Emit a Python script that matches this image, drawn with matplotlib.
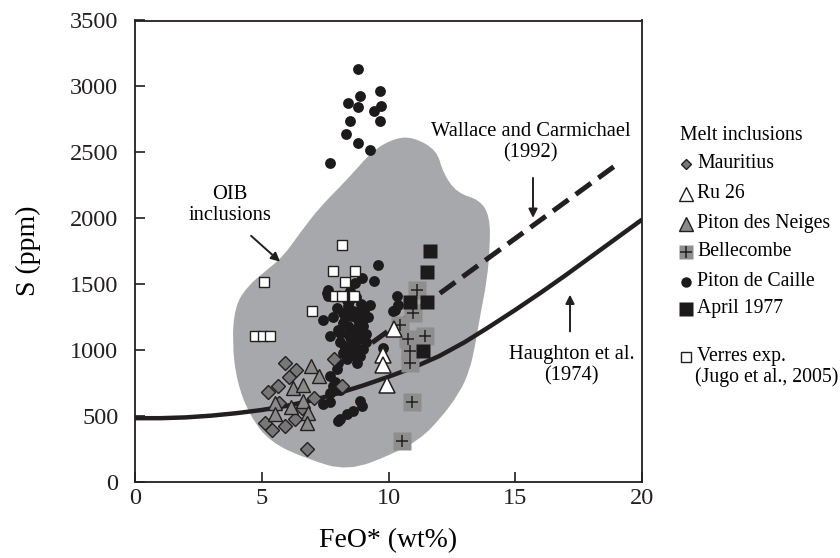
import numpy as np
import matplotlib
matplotlib.use("Agg")
import matplotlib.pyplot as plt
from matplotlib.path import Path
from matplotlib.patches import PathPatch

plt.rcParams['font.family'] = ['Liberation Serif', 'DejaVu Serif']

# ---------------- data (FeO* wt%, S ppm) ----------------
# OIB inclusions field outline
blob_feo = [10.97, 11.91, 12.15, 12.70, 13.61, 14.00, 14.00, 13.89, 13.61, 13.41, 13.21, 12.82,
            12.03, 11.24, 10.18, 8.40, 6.79, 5.33, 4.54, 4.02, 3.83, 3.94, 4.42, 5.21, 5.84,
            6.51, 7.30, 8.36, 9.39, 10.26]
blob_s = [2616, 2517, 2344, 2192, 2139, 2011, 1784, 1535, 1255, 1028, 854, 680,
          476, 325, 212, 83, 174, 302, 499, 756, 1058, 1331, 1482, 1610, 1709,
          1890, 2087, 2291, 2517, 2608]

# Haughton et al. (1974)
haughton_feo = [0, 1, 2, 3, 4, 5, 6, 7, 8, 9, 10, 11, 12, 13, 14, 15, 16, 17, 18, 19, 20]
haughton_s = [484, 484, 490, 503, 522, 546, 578, 620, 672, 732, 798, 870, 955, 1060, 1180,
              1305, 1435, 1570, 1710, 1850, 1990]

# Wallace and Carmichael (1992)
wallace_feo = [9.35, 19.07]
wallace_s = [1056, 2417]

# Mauritius
maur_feo = [5.92, 6.35, 6.07, 5.66, 5.25, 7.06, 7.85, 8.15, 5.13, 5.39, 5.92, 6.33, 6.77, 5.70, 6.60]
maur_s = [900, 847, 794, 726, 680, 635, 930, 728, 446, 397, 426, 476, 249, 600, 560]

# Ru 26
ru_feo = [10.22, 9.77, 9.77, 9.95]
ru_s = [1162, 960, 885, 733]

# Piton des Neiges
pdn_feo = [6.94, 7.26, 6.23, 6.63, 5.54, 6.15, 6.64, 6.82, 5.52, 6.77]
pdn_s = [877, 801, 711, 733, 597, 567, 615, 522, 514, 451]

# Bellecombe
bel_feo = [11.11, 10.98, 10.45, 10.78, 11.44, 10.85, 10.85, 10.92, 10.52]
bel_s = [1459, 1283, 1194, 1081, 1106, 993, 905, 607, 312]

# Piton de Caille
pdc_feo = [8.81, 9.66, 8.88, 8.41, 8.81, 9.69, 9.43, 8.48, 9.66, 8.32, 8.81, 9.27, 7.69,
           9.60, 9.44, 8.94, 8.68, 7.63, 7.63, 10.32, 8.35, 8.41, 8.22, 8.55, 9.27, 7.96,
           9.01, 7.43, 10.26, 8.22, 8.68, 7.69, 8.09, 8.81, 8.28, 8.48, 9.01, 8.88, 9.79,
           8.35, 8.75, 7.96, 7.69, 7.82, 7.69, 7.43, 7.69, 8.88, 8.94, 8.61, 8.35, 8.02,
           8.09, 10.39, 10.19, 7.56, 8.5, 8.7, 8.9, 8.6, 8.8, 9.0, 8.5, 8.9, 9.1, 8.6, 8.4,
           9.2, 8.2, 8.0, 7.9, 8.1,
           8.45, 8.75, 9.05, 8.3, 8.65, 8.95, 8.4, 8.75, 8.1, 8.55, 9.1, 8.3, 8.0, 7.8]
pdc_s = [3135, 2966, 2926, 2878, 2845, 2850, 2815, 2739, 2739, 2638, 2573, 2517, 2421,
         1648, 1527, 1548, 1510, 1459, 1408, 1408, 1383, 1333, 1283, 1257, 1346, 1321,
         1245, 1232, 1308, 1207, 1157, 1106, 1132, 1081, 1030, 1005, 1005, 955, 1018,
         930, 905, 854, 804, 728, 678, 590, 603, 615, 577, 539, 514, 463,
         476, 1346, 1295, 1434, 1450, 1400, 1350, 1300, 1230, 1180, 1100, 1130, 1060, 1050, 1180,
         1250, 980, 900, 760, 700,
         1370, 1290, 1300, 1250, 1150, 1210, 1120, 1020, 1060, 960, 1120, 1020, 1150, 1250]

# April 1977
apr_feo = [11.64, 11.51, 10.85, 11.51, 11.35]
apr_s = [1754, 1590, 1363, 1363, 993]

# Verres exp. (Jugo et al., 2005)
ver_feo = [7.80, 8.69, 8.28, 7.89, 8.15, 8.64, 6.97, 5.09, 4.73, 5.04, 5.33, 8.15]
ver_s = [1603, 1603, 1514, 1408, 1408, 1414, 1300, 1514, 1111, 1111, 1111, 1799]

x_ticks = [0, 5, 10, 15, 20]
y_ticks = [0, 500, 1000, 1500, 2000, 2500, 3000, 3500]

legend_labels = ["Mauritius", "Ru 26", "Piton des Neiges", "Bellecombe",
                 "Piton de Caille", "April 1977"]

# ---------------- figure ----------------
W, H = 840, 558
fig = plt.figure(figsize=(W / 100, H / 100), dpi=100)
ax_l, ax_r, ax_t, ax_b = 135, 642, 20.5, 482
ax = fig.add_axes([ax_l / W, 1 - ax_b / H, (ax_r - ax_l) / W, (ax_b - ax_t) / H])
ax.set_xlim(0, 20)
ax.set_ylim(0, 3500)

BLK = '#231f20'

# blob (smooth closed curve through midpoints)
pts = np.column_stack([blob_feo, blob_s])
n = len(pts)
mids = (pts + np.roll(pts, -1, axis=0)) / 2
verts = [mids[-1]]
codes = [Path.MOVETO]
for i in range(n):
    verts += [pts[i], mids[i]]
    codes += [Path.CURVE3, Path.CURVE3]
verts.append(mids[-1])
codes.append(Path.CLOSEPOLY)
ax.add_patch(PathPatch(Path(verts, codes), facecolor='#a7a8ab', edgecolor='none', zorder=1))

ax.plot(haughton_feo, haughton_s, color=BLK, lw=3.2, solid_capstyle='butt', zorder=2)
ax.plot(wallace_feo, wallace_s, color=BLK, lw=3.6, dashes=(3.8, 1.8), zorder=2)

# markers
ax.plot(bel_feo, bel_s, ls='none', marker='s', ms=13, mfc='#8e8e8e', mec='none', zorder=3)
ax.plot(bel_feo, bel_s, ls='none', marker='+', ms=9, mew=1.1, color=BLK, zorder=3.1)
ax.plot(pdc_feo, pdc_s, ls='none', marker='o', ms=7.8, mfc='#1c1a1b', mec='none', zorder=4)
ax.plot(maur_feo, maur_s, ls='none', marker='D', ms=6.8, mfc='#777777', mec=BLK, mew=1.0, zorder=5)
ax.plot(pdn_feo, pdn_s, ls='none', marker='^', ms=10.5, mfc='#8a8a8a', mec=BLK, mew=1.0, zorder=6)
ax.plot(ru_feo, ru_s, ls='none', marker='^', ms=11.5, mfc='white', mec=BLK, mew=1.1, zorder=6)
ax.plot(apr_feo, apr_s, ls='none', marker='s', ms=10.5, mfc='#1c1a1b', mec='none', zorder=7)
ax.plot(ver_feo, ver_s, ls='none', marker='s', ms=6.6, mfc='white', mec=BLK, mew=1.0, zorder=8)

# annotations
afs = 14.8
ax.text(3.75, 2102, "OIB\ninclusions", ha='center', va='center', fontsize=afs, linespacing=1.15)
ax.annotate("", xy=(5.72, 1671), xytext=(4.58, 1867),
            arrowprops=dict(arrowstyle='-|>', lw=1.4, color=BLK, mutation_scale=13, shrinkA=0, shrinkB=0))
ax.text(15.6, 2578, "Wallace and Carmichael\n(1992)", ha='center', va='center', fontsize=afs,
        linespacing=1.15)
ax.annotate("", xy=(15.70, 2003), xytext=(15.70, 2306),
            arrowprops=dict(arrowstyle='-|>', lw=1.4, color=BLK, mutation_scale=13, shrinkA=0, shrinkB=0))
ax.text(17.23, 885, "Haughton et al.\n(1974)", ha='center', va='center', fontsize=afs,
        linespacing=1.15)
ax.annotate("", xy=(17.16, 1421), xytext=(17.16, 1142),
            arrowprops=dict(arrowstyle='-|>', lw=1.4, color=BLK, mutation_scale=13, shrinkA=0, shrinkB=0))

# axes styling
for sp in ax.spines.values():
    sp.set_linewidth(1.3)
    sp.set_color(BLK)
ax.set_xticks(x_ticks)
ax.set_yticks(y_ticks)
ax.tick_params(axis='both', direction='in', length=7, width=1.2, colors=BLK, labelsize=17.5)
ax.tick_params(axis='y', pad=12)
ax.tick_params(axis='x', pad=4)
ax.set_xlabel("FeO* (wt%)", fontsize=20, va='center')
ax.set_ylabel("S (ppm)", fontsize=20, va='center')
ax.xaxis.set_label_coords(0.5, (ax_b - 541) / (ax_b - ax_t))
ax.yaxis.set_label_coords((28 - ax_l) / (ax_r - ax_l), 0.5)

# legend (manual)
lfs = 14.2
def fx(px):
    return px / W
def fy(py):
    return 1 - py / H

fig.text(fx(680), fy(136), "Melt inclusions", fontsize=lfs, va='center', ha='left')
leg_y = [164, 193.5, 223.5, 252, 282, 309]
mk = [dict(marker='D', ms=5.2, mfc='#777777', mec=BLK, mew=1.0),
      dict(marker='^', ms=9.5, mfc='white', mec=BLK, mew=1.0),
      dict(marker='^', ms=9.5, mfc='#8a8a8a', mec=BLK, mew=1.0),
      dict(marker='s', ms=10, mfc='#8e8e8e', mec='none'),
      dict(marker='o', ms=7.5, mfc='#1c1a1b', mec='none'),
      dict(marker='s', ms=9.5, mfc='#1c1a1b', mec='none')]
for lab, yy, m in zip(legend_labels, leg_y, mk):
    fig.lines.append(plt.Line2D([fx(686)], [fy(yy)], transform=fig.transFigure, ls='none', **m))
    fig.text(fx(697), fy(yy), lab, fontsize=lfs, va='center', ha='left')
fig.lines.append(plt.Line2D([fx(686)], [fy(leg_y[3])], transform=fig.transFigure, ls='none',
                            marker='+', ms=8, mew=1.1, color=BLK))
fig.lines.append(plt.Line2D([fx(686)], [fy(356.5)], transform=fig.transFigure, ls='none',
                            marker='s', ms=7, mfc='white', mec=BLK, mew=1.0))
fig.text(fx(697), fy(356.5), "Verres exp.", fontsize=lfs, va='center', ha='left')
fig.text(fx(695), fy(377), "(Jugo et al., 2005)", fontsize=lfs, va='center', ha='left')

fig.savefig("out.png", dpi=100)
